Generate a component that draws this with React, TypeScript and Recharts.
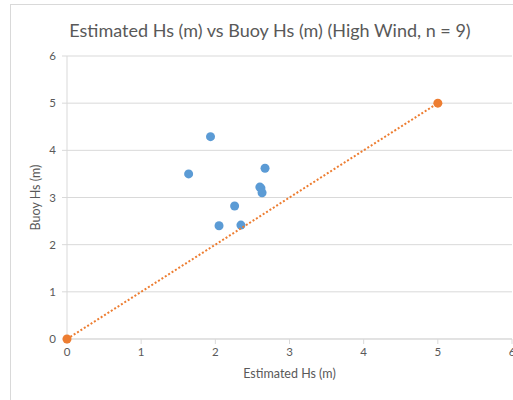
import { ScatterChart, Scatter, XAxis, YAxis, CartesianGrid } from "recharts";

// Estimated Hs (m) vs Buoy Hs (m), high wind cases
const estimatedHs = [1.64, 1.935, 2.05, 2.26, 2.345, 2.6, 2.615, 2.63, 2.67];
const buoyHs = [3.5, 4.29, 2.4, 2.82, 2.415, 3.22, 3.2, 3.1, 3.62];

// 1:1 reference line
const refX = [0, 5];
const refY = [0, 5];

const axisTicks = [0, 1, 2, 3, 4, 5, 6];

const measured = estimatedHs.map((x, i) => ({ x, y: buoyHs[i] }));
const oneToOne = refX.map((x, i) => ({ x, y: refY[i] }));

const textColor = "#595959";
const gridColor = "#d9d9d9";
const font = "Lato, 'Open Sans', sans-serif";

const Dot = (r: number, fill: string) => (props: any) => (
  <circle cx={props.cx} cy={props.cy} r={r} fill={fill} />
);

export default function App() {
  return (
    <div
      style={{
        position: "absolute",
        left: 0,
        top: 0,
        width: 513,
        height: 400,
        overflow: "hidden",
        background: "#fff",
        fontFamily: font,
      }}
    >
      <div
        style={{
          position: "absolute",
          left: 10,
          top: 4,
          width: 600,
          height: 500,
          border: `1px solid ${gridColor}`,
        }}
      />
      <div
        style={{
          position: "absolute",
          left: 0,
          width: 540,
          top: 18,
          textAlign: "center",
          fontSize: 18,
          color: textColor,
          lineHeight: "24px",
        }}
      >
        Estimated Hs (m) vs Buoy Hs (m) (High Wind, n = 9)
      </div>
      <div style={{ position: "absolute", left: 0, top: 0 }}>
        <ScatterChart
          width={560}
          height={400}
          margin={{ top: 56, right: 48, bottom: 31, left: 0 }}
        >
          <CartesianGrid horizontal vertical={false} stroke={gridColor} strokeWidth={1} />
          <XAxis
            type="number"
            dataKey="x"
            domain={[0, 6]}
            ticks={axisTicks}
            height={30}
            tickSize={5}
            tickMargin={4}
            stroke={gridColor}
            tick={{ fill: textColor, fontSize: 11.5, fontFamily: font }}
            label={{
              value: "Estimated Hs (m)",
              position: "bottom",
              offset: 0,
              fill: textColor,
              fontSize: 12.5,
              fontFamily: font,
            }}
          />
          <YAxis
            type="number"
            dataKey="y"
            domain={[0, 6]}
            ticks={axisTicks}
            width={67}
            tickSize={5}
            tickMargin={6}
            stroke={gridColor}
            tick={{ fill: textColor, fontSize: 11.5, fontFamily: font }}
            label={{
              value: "Buoy Hs (m)",
              angle: -90,
              position: "center",
              dx: 2,
              fill: textColor,
              fontSize: 12.5,
              fontFamily: font,
            }}
          />
          <Scatter
            data={measured}
            fill="#5b9bd5"
            shape={Dot(4.5, "#5b9bd5")}
            isAnimationActive={false}
          />
          <Scatter
            data={oneToOne}
            fill="#ed7d31"
            line={{ stroke: "#ed7d31", strokeWidth: 2, strokeDasharray: "2 2" }}
            shape={Dot(4.5, "#ed7d31")}
            isAnimationActive={false}
          />
        </ScatterChart>
      </div>
    </div>
  );
}
